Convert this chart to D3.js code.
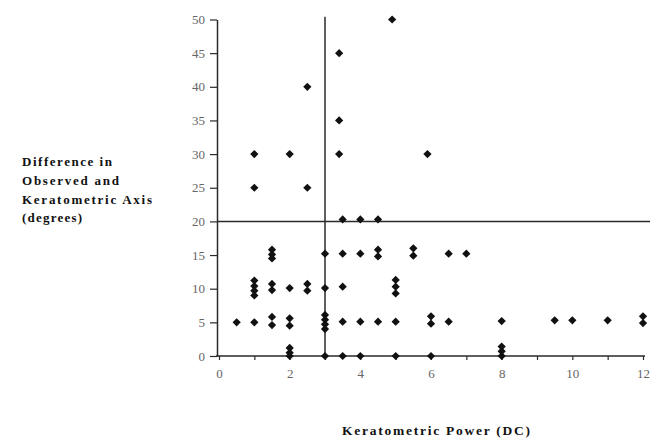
<!DOCTYPE html>
<html>
<head>
<meta charset="utf-8">
<script src="https://cdn.jsdelivr.net/npm/d3@7"></script>
<style>
  body { margin: 0; background: #fff; }
  svg { display: block; }
</style>
</head>
<body>
<div id="chart"></div>
<script>
// keratometric power (DC) and axis difference (degrees)
var powerDC = [
  1, 1, 2, 2.5, 2.5, 3.4, 3.4, 3.4, 4.9, 5.9,
  3.5, 4, 4.5,
  0.5,
  1, 1, 1, 1, 1,
  1.5, 1.5, 1.5, 1.5, 1.5, 1.5, 1.5,
  2, 2, 2, 2, 2, 2,
  2.5, 2.5,
  3, 3, 3, 3, 3, 3, 3,
  3.5, 3.5, 3.5, 3.5,
  4, 4, 4,
  4.5, 4.5, 4.5,
  5, 5, 5, 5, 5,
  5.5, 5.5,
  6, 6, 6,
  6.5, 6.5,
  7,
  8, 8, 8, 8,
  9.5, 10, 11, 12, 12
];
var axisDiff = [
  30, 25, 30, 40, 25, 45, 35, 30, 50, 30,
  20.3, 20.3, 20.3,
  5,
  11.2, 10.4, 9.7, 9, 5,
  15.8, 15.1, 14.5, 10.7, 9.8, 5.8, 4.6,
  10.1, 5.6, 4.5, 1.2, 0.5, 0,
  10.7, 9.7,
  15.2, 10.1, 6.1, 5.4, 4.7, 4, 0,
  15.2, 10.3, 5.1, 0,
  15.2, 5.1, 0,
  15.8, 14.8, 5.1,
  11.3, 10.3, 9.3, 5.1, 0,
  16, 14.9,
  5.9, 4.8, 0,
  15.2, 5.1,
  15.2,
  5.2, 1.4, 0.7, 0,
  5.3, 5.3, 5.3, 5.9, 4.9
];
var xTicks = [0, 1, 2, 3, 4, 5, 6, 7, 8, 9, 10, 11, 12];
var yTicks = [0, 5, 10, 15, 20, 25, 30, 35, 40, 45, 50];
var cutPower = 3;   // vertical reference line
var cutDiff = 20;   // horizontal reference line
var yTitle = ["Difference in", "Observed and", "Keratometric Axis", "(degrees)"];
var xTitle = "Keratometric Power (DC)";

var W = 650, H = 439;

var svg = d3.select("#chart")
  .append("svg")
    .attr("width", W)
    .attr("height", H);

var x = d3.scaleLinear().domain([0, 12]).range([219, 643]);
var y = d3.scaleLinear().domain([0, 50]).range([356, 19.5]);

var ink = "#2a2a2a";

// y axis
var yAxis = svg.append("g")
  .attr("transform", "translate(" + (x(0) - 2) + ",0)")
  .call(d3.axisLeft(y).tickValues(yTicks).tickSize(7).tickSizeOuter(0).tickPadding(5));
yAxis.select(".domain").attr("stroke", ink).attr("stroke-width", 1.5);
yAxis.selectAll(".tick line").attr("stroke", ink).attr("stroke-width", 1.2);
yAxis.selectAll("text")
  .style("font-family", "'Liberation Serif', serif")
  .style("font-size", "13px")
  .attr("fill", "#666");

// x axis
var xAxis = svg.append("g")
  .attr("transform", "translate(0," + y(0) + ")")
  .call(d3.axisBottom(x).tickValues(xTicks).tickSize(4).tickSizeOuter(0).tickPadding(9)
    .tickFormat(function(d) { return d % 2 === 0 ? d : ""; }));
xAxis.select(".domain")
  .attr("d", "M" + (x(0) - 3) + ",0H" + (x(12) + 2))
  .attr("stroke", ink).attr("stroke-width", 1.5);
xAxis.selectAll(".tick line").attr("stroke", ink).attr("stroke-width", 1.2);
xAxis.selectAll("text")
  .style("font-family", "'Liberation Serif', serif")
  .style("font-size", "13px")
  .attr("fill", "#666");

// reference lines
svg.append("line")
  .attr("x1", x(cutPower)).attr("x2", x(cutPower))
  .attr("y1", y(50.4)).attr("y2", y(0))
  .attr("stroke", ink).attr("stroke-width", 1.5);
svg.append("line")
  .attr("x1", x(0) - 2).attr("x2", W)
  .attr("y1", y(cutDiff)).attr("y2", y(cutDiff))
  .attr("stroke", ink).attr("stroke-width", 1.5);

// points
var diamond = d3.symbol().type(d3.symbolSquare).size(34);
svg.append("g")
  .selectAll("path")
  .data(powerDC.map(function(p, i) { return [p, axisDiff[i]]; }))
  .join("path")
    .attr("d", diamond)
    .attr("transform", function(d) { return "translate(" + x(d[0]) + "," + y(d[1]) + ")rotate(45)"; })
    .attr("fill", "#111");

// y title, left side
var lens = [90, 97, 130, 60];
svg.append("g").selectAll("text")
  .data(yTitle)
  .join("text")
    .attr("x", 22)
    .attr("y", function(d, i) { return 166 + i * 18.8; })
    .attr("textLength", function(d, i) { return lens[i]; })
    .attr("lengthAdjust", "spacing")
    .style("font-family", "'Liberation Serif', serif")
    .style("font-weight", "bold")
    .style("font-size", "13px")
    .attr("fill", "#111")
    .text(function(d) { return d; });

// x title
svg.append("text")
  .attr("x", 342)
  .attr("y", 435)
  .attr("textLength", 188)
  .attr("lengthAdjust", "spacing")
  .style("font-family", "'Liberation Serif', serif")
  .style("font-weight", "bold")
  .style("font-size", "13.5px")
  .attr("fill", "#111")
  .text(xTitle);
</script>
</body>
</html>
